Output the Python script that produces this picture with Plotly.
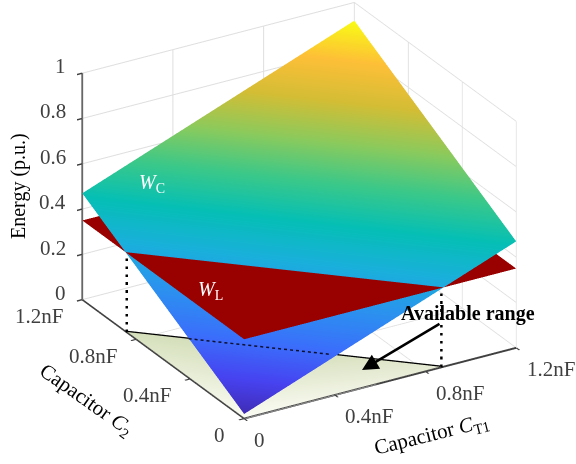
import numpy as np
import plotly.graph_objects as go

# ---- data ----
ct1_nf = [0.0, 0.4, 0.8, 1.2]
c2_nf = [0.0, 0.4, 0.8, 1.2]
wc_energy = [[0.02, 0.17, 0.32, 0.47],
             [0.17, 0.32, 0.47, 0.62],
             [0.32, 0.47, 0.62, 0.77],
             [0.47, 0.62, 0.77, 0.92]]
wl_energy = [[0.35, 0.35, 0.35, 0.35],
             [0.35, 0.35, 0.35, 0.35],
             [0.35, 0.35, 0.35, 0.35],
             [0.35, 0.35, 0.35, 0.35]]
limit_nf = 0.87
limit_energy = 0.35
cap_ticks = [0, 0.4, 0.8, 1.2]
cap_tick_labels = ["0", "0.4nF", "0.8nF", "1.2nF"]
energy_ticks = [0, 0.2, 0.4, 0.6, 0.8, 1]
energy_tick_labels = ["0", "0.2", "0.4", "0.6", "0.8", "1"]

parula = [[0.0, "#3e26a8"], [0.1, "#4742f0"], [0.2, "#3a6ffb"], [0.3, "#2b92ef"], [0.4, "#1aafdc"],
          [0.5, "#05bfb5"], [0.6, "#3ac88a"], [0.7, "#8cca5c"], [0.8, "#d3bd35"], [0.9, "#fdbf37"],
          [1.0, "#f9fb15"]]

SERIF = "Liberation Serif"
TICK = "#404040"
GRID = "#dedede"
W, H = 576, 464

O = np.array([243.0, 418.0]); XC = np.array([273.0, -71.0]); YC = np.array([-162.0, -119.0]); ZC = np.array([0.0, -227.0])
def screen(x, y, z):
    return O + XC * x / 1.2 + YC * y / 1.2 + ZC * z
def paper(p):
    return float(p[0] / W), float(1 - p[1] / H)

fig = go.Figure()
flat = dict(ambient=1, diffuse=0, specular=0, roughness=1, fresnel=0)
fig.add_trace(go.Surface(x=ct1_nf, y=c2_nf, z=wc_energy, colorscale=parula, cmin=0, cmax=0.92,
                         showscale=False, lighting=flat, hoverinfo="skip"))
fig.add_trace(go.Surface(x=ct1_nf, y=c2_nf, z=wl_energy, colorscale=[[0, "#990000"], [1, "#990000"]],
                         showscale=False, lighting=flat, hoverinfo="skip"))
fig.add_trace(go.Mesh3d(x=[0, limit_nf, limit_nf / 2, 0], y=[0, 0, limit_nf / 2, limit_nf], z=[0.002] * 4,
                        i=[0, 0], j=[1, 2], k=[2, 3],
                        vertexcolor=["#fbfcf4", "#e6ebd4", "#d2dcb6", "#d6e0bc"],
                        lighting=flat, hoverinfo="skip"))
fig.add_trace(go.Scatter3d(x=[0, limit_nf], y=[limit_nf, 0], z=[0.003, 0.003], mode="lines",
                           line=dict(color="black", width=4), hoverinfo="skip"))
for px, py in ((0, limit_nf), (limit_nf, 0)):
    fig.add_trace(go.Scatter3d(x=[px, px], y=[py, py], z=[0, limit_energy], mode="lines",
                               line=dict(color="black", width=5, dash="longdash"), hoverinfo="skip"))

d = np.array([-0.46, -0.773, 0.437]); d /= np.linalg.norm(d)
R = 1.8
K = 1.365
center = np.array([-0.0626, -0.0105, -0.083])

def axis(vals):
    return dict(title=dict(text=""), tickmode="array", tickvals=vals, showticklabels=False,
                showgrid=True, gridcolor=GRID, gridwidth=2, showbackground=False,
                showline=True, linecolor="#404040", linewidth=4, ticks="outside", ticklen=6,
                tickcolor="#404040", tickwidth=3, zeroline=False, showspikes=False)

def label(text, px, py, angle=0, size=20, color="black", xanchor="center"):
    return dict(text=text, x=px / W, y=1 - py / H, xref="paper", yref="paper", showarrow=False,
                textangle=angle, xanchor=xanchor, yanchor="middle",
                font=dict(family=SERIF, size=size, color=color))

tail = (441, 323); tip = (362, 370)
annotations = [
    label("Energy (p.u.)", 18, 186, -90),
    label("Capacitor <i>C</i><sub>T1</sub>", 431, 435, -14, size=21),
    label("Capacitor <i>C</i><sub>2</sub>", 86, 400, 35, size=21),
    label("<i>W</i><sub>C</sub>", 152, 183, color="white"),
    label("<i>W</i><sub>L</sub>", 210, 290, color="white"),
    label("<b>Available range</b>", 468, 313),
    dict(x=tip[0] / W, y=1 - tip[1] / H, ax=tail[0] - tip[0], ay=tail[1] - tip[1], xref="paper", yref="paper",
         axref="pixel", ayref="pixel", text="", showarrow=True, arrowhead=2, arrowsize=1.3, arrowwidth=2.5,
         arrowcolor="black"),
]
for v, t in zip(cap_ticks, cap_tick_labels):
    p = screen(v, 0, 0)
    annotations.append(label(t, p[0] + 9, p[1] + 22, size=21, color=TICK, xanchor="left"))
    p = screen(0, v, 0)
    annotations.append(label(t, p[0] - 16, p[1] + 17, size=21, color=TICK, xanchor="right"))
for v, t in zip(energy_ticks, energy_tick_labels):
    p = screen(0, 1.2, v)
    annotations.append(label(t, p[0] - 13, p[1] - 6, size=21, color=TICK, xanchor="right"))

x0, y0 = paper(screen(limit_nf * 0.2, limit_nf * 0.8, 0))
x1, y1 = paper(screen(limit_nf * 0.65, limit_nf * 0.35, 0))
shapes = [dict(type="line", xref="paper", yref="paper", x0=x0, y0=y0, x1=x1, y1=y1,
               line=dict(color="#101030", width=1.5, dash="dot"))]

fig.update_layout(
    width=W, height=H, margin=dict(l=0, r=0, t=0, b=0, pad=0, autoexpand=False), paper_bgcolor="white", showlegend=False,
    annotations=annotations, shapes=shapes,
    scene=dict(
        domain=dict(x=[0, 1], y=[0, 1]),
        xaxis=dict(range=[0, 1.2], **axis(cap_ticks)),
        yaxis=dict(range=[0, 1.2], **axis(cap_ticks)),
        zaxis=dict(range=[0, 1], **axis(energy_ticks)),
        aspectmode="manual", aspectratio=dict(x=K, y=K, z=0.795 * K),
        camera=dict(projection=dict(type="orthographic"), up=dict(x=0, y=0, z=1),
                    center=dict(x=float(center[0]), y=float(center[1]), z=float(center[2])),
                    eye=dict(x=float(center[0] + R * d[0]), y=float(center[1] + R * d[1]), z=float(center[2] + R * d[2]))),
    ),
)
fig.write_html("out.html", config={"displayModeBar": False},
               post_script="document.body.style.margin='0';document.body.style.overflow='hidden';")
